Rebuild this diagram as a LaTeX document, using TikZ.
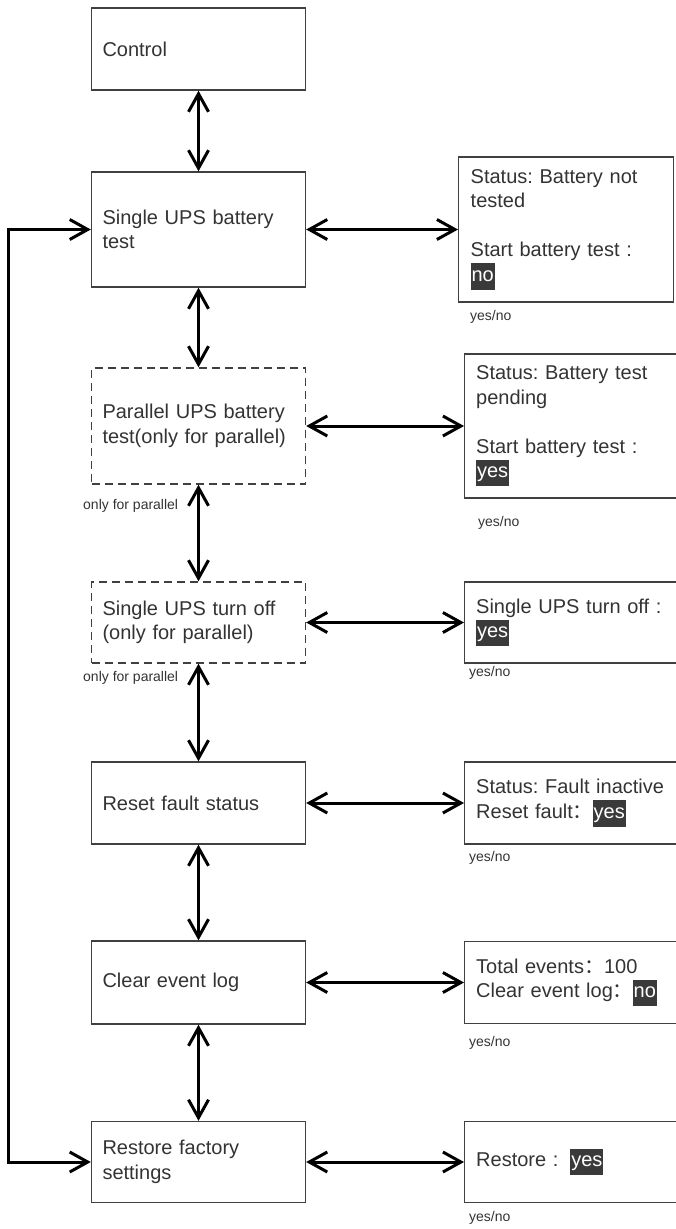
\documentclass[tikz,border=0pt]{standalone}
\usepackage{fontspec}
\setmainfont{Liberation Sans}
\newfontfamily\cjk{Noto Sans CJK SC}
\usepackage{xcolor}
\usetikzlibrary{arrows.meta,positioning}
\definecolor{boxgray}{HTML}{404040}
\definecolor{txtgray}{HTML}{333333}
\definecolor{hlgray}{HTML}{3A3A3A}
\newcommand{\hl}[1]{{\setlength{\fboxsep}{0.8pt}\colorbox{hlgray}{\textcolor{white}{\strut #1}}}}
\newcommand{\fwcolon}{{\cjk ：}}
\frenchspacing

\begin{document}
\begin{tikzpicture}[x=1pt,y=-1pt,>={Straight Barb[length=18pt,width=20pt]},
  menubox/.style={draw=boxgray, line width=1.4pt, minimum width=214pt, text width=192pt,
    inner xsep=11pt, align=left, text=txtgray, font=\fontsize{20}{24.5}\selectfont},
  optbox/.style={menubox, dash pattern=on 8pt off 5pt},
  infobox/.style={menubox, anchor=west, minimum width=220pt, text width=197pt},
  link/.style={<->, line width=3pt},
  note/.style={anchor=west, inner sep=0pt, text=txtgray, font=\fontsize{14}{16}\selectfont}]
  \useasboundingbox (0,0) rectangle (675,1229);
  % menu column
  \node[menubox, minimum height=82pt] (control) at (198.5,49) {Control};
  \node[menubox, minimum height=115pt] (single) at (198.5,229.5) {Single UPS battery\\test};
  \node[optbox, minimum height=116pt] (parallel) at (198.5,426) {Parallel UPS battery\\test(only for parallel)};
  \node[optbox, minimum height=81pt] (turnoff) at (198.5,622.5) {Single UPS turn off\\(only for parallel)};
  \node[menubox, minimum height=82pt] (reset) at (198.5,803) {Reset fault status};
  \node[menubox, minimum height=83pt] (clearlog) at (198.5,982.5) {Clear event log};
  \node[menubox, minimum height=81pt] (restore) at (198.5,1162) {Restore factory\\settings};
  % screens
  \node[infobox, minimum width=215pt, text width=191pt, inner xsep=12pt, minimum height=145pt] (batinfo) at (458,229.5)
    {Status: Battery not\\tested\\[24.5pt]Start battery test :\\\hl{no}};
  \node[infobox, minimum height=144pt] (parinfo) at (464,426)
    {Status: Battery test\\pending\\[24.5pt]Start battery test :\\\hl{yes}};
  \node[infobox, minimum height=81pt] (offinfo) at (464,622.5) {Single UPS turn off :\\\hl{yes}};
  \node[infobox, minimum height=82pt] (faultinfo) at (464,803) {Status: Fault inactive\\Reset fault\fwcolon\hl{yes}};
  \node[infobox, minimum height=82pt] (loginfo) at (464,982.5) {Total events\fwcolon 100\\Clear event log\fwcolon\hl{no}};
  \node[infobox, minimum height=81pt] (restinfo) at (464,1162) {Restore :\hspace{12pt}\hl{yes}};
  % small labels
  \node[note] (parnote) at (83,506) {only for parallel};
  \node[note] (offnote) at (83,678) {only for parallel};
  \node[note] (batyn) at (470,317) {yes/no};
  \node[note] (paryn) at (478,523) {yes/no};
  \node[note] (offyn) at (469,673) {yes/no};
  \node[note] (faultyn) at (469,858) {yes/no};
  \node[note] (logyn) at (469,1043) {yes/no};
  \node[note] (restyn) at (469,1218) {yes/no};
  % vertical links
  \draw[link] (control) -- (single);
  \draw[link] (single) -- (parallel);
  \draw[link] (parallel) -- (turnoff);
  \draw[link] (turnoff) -- (reset);
  \draw[link] (reset) -- (clearlog);
  \draw[link] (clearlog) -- (restore);
  % horizontal links
  \draw[link] (single) -- (batinfo);
  \draw[link] (parallel) -- (parinfo);
  \draw[link] (turnoff) -- (offinfo);
  \draw[link] (reset) -- (faultinfo);
  \draw[link] (clearlog) -- (loginfo);
  \draw[link] (restore) -- (restinfo);
  % loop back
  \coordinate (loopx) at (8,0);
  \draw[link] (single.west) -- (single.west -| loopx) -- (restore.west -| loopx) -- (restore.west);
\end{tikzpicture}
\end{document}
